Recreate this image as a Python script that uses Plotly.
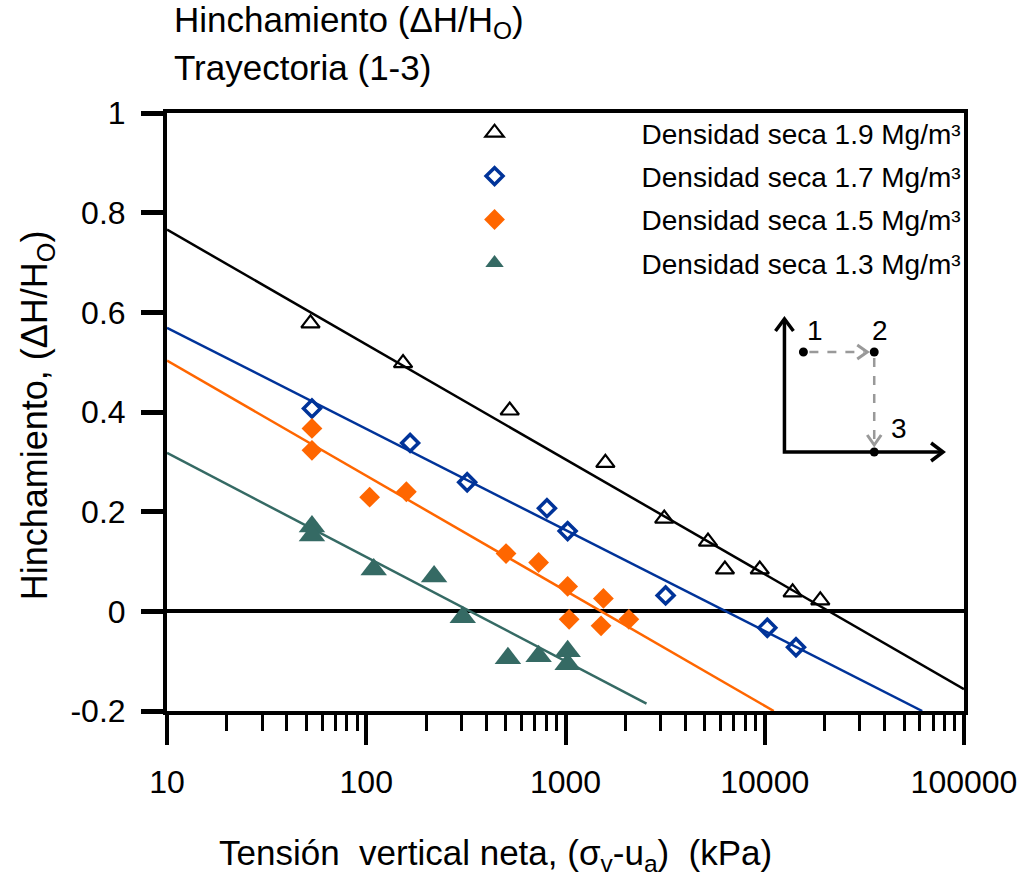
import plotly.graph_objects as go

# ---------------- data ----------------
s19_x = [52.5, 153, 525, 1585, 3130, 5190, 6310, 9440, 13800, 19000]
s19_y = [0.578, 0.498, 0.403, 0.298, 0.186, 0.140, 0.084, 0.084, 0.038, 0.022]

s17_x = [53.4, 166, 321, 807, 1025, 3180, 10300, 14350]
s17_y = [0.407, 0.338, 0.259, 0.207, 0.161, 0.032, -0.033, -0.072]

s15_x = [53.4, 53.4, 104, 159, 503, 733, 1025, 1043, 1550, 1508, 2080]
s15_y = [0.367, 0.323, 0.229, 0.240, 0.116, 0.098, 0.050, -0.016, 0.026, -0.029, -0.016]

s13_x = [53.4, 53.4, 109, 219, 305, 514, 733, 1025, 1025]
s13_y = [0.170, 0.152, 0.084, 0.070, -0.012, -0.094, -0.090, -0.080, -0.106]

# fitted trend lines (end points)
fit19_x = [10, 100000]
fit19_y = [0.766, -0.156]
fit17_x = [10, 61700]
fit17_y = [0.569, -0.200]
fit15_x = [10, 11100]
fit15_y = [0.503, -0.200]
fit13_x = [10, 2550]
fit13_y = [0.318, -0.185]

names = ["Densidad seca 1.9 Mg/m³",
         "Densidad seca 1.7 Mg/m³",
         "Densidad seca 1.5 Mg/m³",
         "Densidad seca 1.3 Mg/m³"]

x_tickvals = [10, 100, 1000, 10000, 100000]
x_ticktext = ["10", "100", "1000", "10000", "100000"]
y_tickvals = [-0.2, 0, 0.2, 0.4, 0.6, 0.8, 1]
y_ticktext = ["-0.2", "0", "0.2", "0.4", "0.6", "0.8", "1"]

BLACK = "#000000"
BLUE = "#003399"
ORANGE = "#FF6600"
TEAL = "#356A64"
GRAY = "#999999"
FONT = "Liberation Sans, Arial, sans-serif"

fig = go.Figure()

# fit lines
for fx, fy, col in [(fit19_x, fit19_y, BLACK), (fit17_x, fit17_y, BLUE),
                    (fit15_x, fit15_y, ORANGE), (fit13_x, fit13_y, TEAL)]:
    fig.add_trace(go.Scatter(x=fx, y=fy, mode="lines", line=dict(color=col, width=2.5),
                             showlegend=False, hoverinfo="skip"))

# markers
fig.add_trace(go.Scatter(x=s19_x, y=s19_y, mode="markers", name=names[0], legendgroup="g1",
                         marker=dict(symbol="triangle-up-open", size=16, color=BLACK,
                                     line=dict(width=2.2, color=BLACK))))
fig.add_trace(go.Scatter(x=s17_x, y=s17_y, mode="markers", name=names[1], legendgroup="g2",
                         marker=dict(symbol="diamond-open", size=13, color=BLUE,
                                     line=dict(width=3.5, color=BLUE))))
fig.add_trace(go.Scatter(x=s15_x, y=s15_y, mode="markers", name=names[2], legendgroup="g3",
                         marker=dict(symbol="diamond", size=16, color=ORANGE,
                                     line=dict(width=0))))
fig.add_trace(go.Scatter(x=s13_x, y=s13_y, mode="markers", name=names[3], legendgroup="g4",
                         marker=dict(symbol="triangle-up", size=23, color=TEAL,
                                     line=dict(width=0))))

minor_vals = [m * 10 ** k for k in range(1, 5) for m in range(2, 10)]

fig.update_xaxes(type="log", range=[1, 5],
                 tickmode="array", tickvals=x_tickvals, ticktext=x_ticktext,
                 ticks="outside", ticklen=30, tickwidth=4, tickcolor=BLACK,
                 ticklabelstandoff=10,
                 minor=dict(tickmode="array", tickvals=minor_vals, ticks="outside",
                            ticklen=16, tickwidth=3, tickcolor=BLACK),
                 showline=True, linewidth=4, linecolor=BLACK, mirror=True,
                 showgrid=False, zeroline=False,
                 tickfont=dict(family=FONT, size=32, color=BLACK))
fig.update_yaxes(range=[-0.2, 1],
                 tickmode="array", tickvals=y_tickvals, ticktext=y_ticktext,
                 ticks="outside", ticklen=22, tickwidth=5, tickcolor=BLACK,
                 ticklabelstandoff=9,
                 showline=True, linewidth=4, linecolor=BLACK, mirror=True,
                 showgrid=False, zeroline=True, zerolinewidth=4, zerolinecolor=BLACK,
                 tickfont=dict(family=FONT, size=32, color=BLACK))

L, R, T, B = 167, 63, 113, 172
PW, PH = 1029 - L - R, 883 - T - B


def px(x):
    return (x - L) / PW


def py(y):
    return (883 - B - y) / PH


annotations = [
    dict(text="Hinchamiento (ΔH/H<sub>O</sub>)", x=px(172), y=py(22), xanchor="left",
         yanchor="middle", font=dict(size=35)),
    dict(text="Trayectoria (1-3)", x=px(172), y=py(67), xanchor="left",
         yanchor="middle", font=dict(size=35)),
    dict(text="Hinchamiento, (ΔH/H<sub>O</sub>)", x=px(37), y=py(415), textangle=-90,
         xanchor="center", yanchor="middle", font=dict(size=36)),
    dict(text="Tensión  vertical neta, (σ<sub>v</sub>-u<sub>a</sub>)  (kPa)", x=px(496), y=py(855),
         xanchor="center", yanchor="middle", font=dict(size=35)),
    # inset labels
    dict(text="1", x=px(817), y=py(330), xanchor="center", yanchor="middle", font=dict(size=28)),
    dict(text="2", x=px(882), y=py(330), xanchor="center", yanchor="middle", font=dict(size=28)),
    dict(text="3", x=px(901), y=py(428), xanchor="center", yanchor="middle", font=dict(size=28)),
]
for a in annotations:
    a["showarrow"] = False
    a["xref"] = "paper"
    a["yref"] = "paper"
    f = a.get("font", {})
    f.setdefault("family", FONT)
    f.setdefault("color", BLACK)
    a["font"] = f


def pth(points):
    return "M " + " L ".join(f"{px(x):.5f},{py(y):.5f}" for x, y in points)


shapes = [
    # inset axes
    dict(type="path", path=pth([(786, 320), (786, 452), (944, 452)]),
         line=dict(color=BLACK, width=3.5)),
    dict(type="path", path=pth([(777, 331), (786, 319), (795, 331)]),
         line=dict(color=BLACK, width=3.5)),
    dict(type="path", path=pth([(933, 443), (945, 452), (933, 461)]),
         line=dict(color=BLACK, width=3.5)),
    # gray dashed path 1 -> 2 -> 3
    dict(type="line", x0=px(811), y0=py(352), x1=px(866), y1=py(352),
         line=dict(color=GRAY, width=2.5, dash="dash")),
    dict(type="path", path=pth([(859, 345), (869, 352), (859, 359)]),
         line=dict(color=GRAY, width=3)),
    dict(type="line", x0=px(876), y0=py(358), x1=px(876), y1=py(442),
         line=dict(color=GRAY, width=2.5, dash="dash")),
    dict(type="path", path=pth([(869, 435), (876, 445), (883, 435)]),
         line=dict(color=GRAY, width=3)),
]
for cx, cy in [(805, 352), (876, 352), (876, 452)]:
    r = 4.5
    shapes.append(dict(type="circle", x0=px(cx - r), x1=px(cx + r), y0=py(cy + r), y1=py(cy - r),
                       fillcolor=BLACK, line=dict(width=0)))
for s in shapes:
    s["xref"] = "paper"
    s["yref"] = "paper"

fig.update_layout(
    width=1029, height=883,
    margin=dict(l=L, r=R, t=T, b=B),
    paper_bgcolor="white", plot_bgcolor="white",
    font=dict(family=FONT, color=BLACK),
    annotations=annotations, shapes=shapes,
    showlegend=True,
    legend=dict(x=px(348), y=py(108), xanchor="left", yanchor="top",
                font=dict(family=FONT, size=28, color=BLACK),
                itemwidth=284, tracegroupgap=4, bgcolor="rgba(0,0,0,0)", borderwidth=0,
                traceorder="grouped"),
)

fig.write_html("out.html")
